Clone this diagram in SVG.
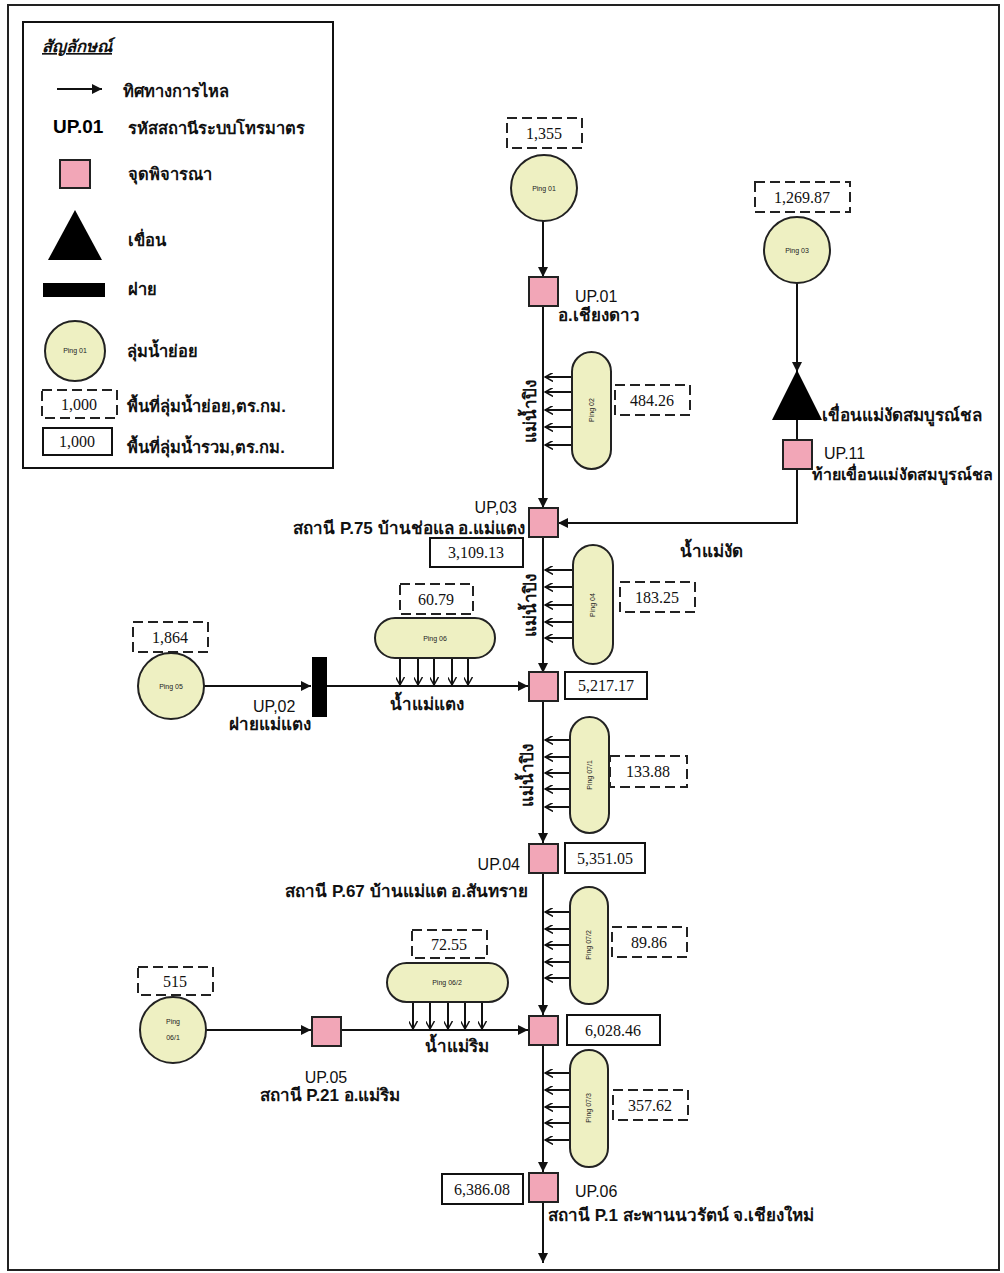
<svg xmlns="http://www.w3.org/2000/svg" width="1004" height="1273" viewBox="0 0 1004 1273">
<defs>
<style>
.ln{stroke:#111;stroke-width:2;fill:none}
.sq{fill:#f2a6b7;stroke:#222;stroke-width:2}
.cir{fill:#eef0c2;stroke:#222;stroke-width:2}
.dash{fill:#fff;stroke:#222;stroke-width:2;stroke-dasharray:10 5}
.box{fill:#fff;stroke:#111;stroke-width:2}
.num{font-family:"Liberation Serif",serif;font-size:16px;text-anchor:middle;fill:#111}
.th{font-family:"Liberation Sans","Noto Sans",sans-serif;font-size:17px;font-weight:bold;fill:#111}
.th16{font-size:16px}
.lg{font-family:"Liberation Sans","Noto Sans",sans-serif;font-size:16.5px;font-weight:bold;fill:#111}
.up{font-family:"Liberation Sans",sans-serif;font-size:16px;fill:#111}
.pg{font-family:"Liberation Sans",sans-serif;font-size:7px;text-anchor:middle;fill:#222}
</style>
<marker id="ah" viewBox="0 0 10 10" refX="10" refY="5" markerWidth="10" markerHeight="10" markerUnits="userSpaceOnUse" orient="auto"><path d="M0,0 L10,5 L0,10 z" fill="#111"/></marker>
<marker id="ch" viewBox="0 0 10 10" refX="9" refY="5" markerWidth="9" markerHeight="9" markerUnits="userSpaceOnUse" orient="auto"><path d="M0,0 L9,5 L0,10" fill="none" stroke="#111" stroke-width="1.6"/></marker>
</defs>
<rect x="0" y="0" width="1004" height="1273" fill="#fff"/>
<rect x="8" y="5" width="991" height="1265" fill="none" stroke="#222" stroke-width="2"/>

<g id="legend">
<rect x="23" y="22" width="310" height="446" fill="#fff" stroke="#111" stroke-width="2"/>
<text x="42" y="52" class="lg" font-style="italic" text-decoration="underline">สัญลักษณ์</text>
<line x1="57" y1="89" x2="102" y2="89" class="ln" marker-end="url(#ah)"/>
<text x="123" y="97" class="lg">ทิศทางการไหล</text>
<text x="53" y="133" font-family="Liberation Sans,sans-serif" font-size="19" font-weight="bold">UP.01</text>
<text x="128" y="134" class="lg">รหัสสถานีระบบโทรมาตร</text>
<rect x="60" y="160" width="30" height="28" class="sq"/>
<text x="128" y="180" class="lg">จุดพิจารณา</text>
<polygon points="75,210 48,260 102,260" fill="#000"/>
<text x="128" y="246" class="lg">เขื่อน</text>
<rect x="43" y="283" width="62" height="14" fill="#000"/>
<text x="128" y="295" class="lg">ฝาย</text>
<circle cx="75" cy="351" r="30" class="cir"/>
<text x="75" y="353" class="pg">Ping 01</text>
<text x="127" y="357" class="lg">ลุ่มน้ำย่อย</text>
<rect x="42" y="390" width="75" height="28" class="dash"/>
<text x="79" y="410" class="num">1,000</text>
<text x="127" y="412" class="lg">พื้นที่ลุ่มน้ำย่อย,ตร.กม.</text>
<rect x="43" y="428" width="69" height="27" class="box"/>
<text x="77" y="447" class="num">1,000</text>
<text x="127" y="453" class="lg">พื้นที่ลุ่มน้ำรวม,ตร.กม.</text>
</g>

<g id="connectors">
<line x1="543" y1="221" x2="543" y2="277" class="ln" marker-end="url(#ah)"/>
<line x1="543" y1="306" x2="543" y2="508" class="ln" marker-end="url(#ah)"/>
<line x1="543" y1="538" x2="543" y2="673" class="ln" marker-end="url(#ah)"/>
<line x1="543" y1="701" x2="543" y2="843" class="ln" marker-end="url(#ah)"/>
<line x1="543" y1="874" x2="543" y2="1015" class="ln" marker-end="url(#ah)"/>
<line x1="543" y1="1045" x2="543" y2="1172" class="ln" marker-end="url(#ah)"/>
<line x1="543" y1="1202" x2="543" y2="1263" class="ln" marker-end="url(#ah)"/>
<line x1="797" y1="283" x2="797" y2="372" class="ln" marker-end="url(#ah)"/>
<line x1="797" y1="420" x2="797" y2="440" class="ln"/>
<path d="M797,469 V523 H558" class="ln" marker-end="url(#ah)"/>
<line x1="204" y1="686" x2="311" y2="686" class="ln" marker-end="url(#ah)"/>
<line x1="327" y1="686" x2="528" y2="686" class="ln" marker-end="url(#ah)"/>
<line x1="206" y1="1030" x2="311" y2="1030" class="ln" marker-end="url(#ah)"/>
<line x1="341" y1="1030" x2="528" y2="1030" class="ln" marker-end="url(#ah)"/>
<g class="ln" stroke-width="1.6">
<line x1="572" y1="377" x2="545" y2="377" marker-end="url(#ch)"/>
<line x1="572" y1="392" x2="545" y2="392" marker-end="url(#ch)"/>
<line x1="572" y1="410" x2="545" y2="410" marker-end="url(#ch)"/>
<line x1="572" y1="427" x2="545" y2="427" marker-end="url(#ch)"/>
<line x1="572" y1="445" x2="545" y2="445" marker-end="url(#ch)"/>
<line x1="573" y1="570" x2="545" y2="570" marker-end="url(#ch)"/>
<line x1="573" y1="587" x2="545" y2="587" marker-end="url(#ch)"/>
<line x1="573" y1="605" x2="545" y2="605" marker-end="url(#ch)"/>
<line x1="573" y1="622" x2="545" y2="622" marker-end="url(#ch)"/>
<line x1="573" y1="638" x2="545" y2="638" marker-end="url(#ch)"/>
<line x1="570" y1="740" x2="545" y2="740" marker-end="url(#ch)"/>
<line x1="570" y1="757" x2="545" y2="757" marker-end="url(#ch)"/>
<line x1="570" y1="773" x2="545" y2="773" marker-end="url(#ch)"/>
<line x1="570" y1="789" x2="545" y2="789" marker-end="url(#ch)"/>
<line x1="570" y1="807" x2="545" y2="807" marker-end="url(#ch)"/>
<line x1="570" y1="912" x2="545" y2="912" marker-end="url(#ch)"/>
<line x1="570" y1="929" x2="545" y2="929" marker-end="url(#ch)"/>
<line x1="570" y1="945" x2="545" y2="945" marker-end="url(#ch)"/>
<line x1="570" y1="962" x2="545" y2="962" marker-end="url(#ch)"/>
<line x1="570" y1="978" x2="545" y2="978" marker-end="url(#ch)"/>
<line x1="570" y1="1073" x2="545" y2="1073" marker-end="url(#ch)"/>
<line x1="570" y1="1090" x2="545" y2="1090" marker-end="url(#ch)"/>
<line x1="570" y1="1107" x2="545" y2="1107" marker-end="url(#ch)"/>
<line x1="570" y1="1123" x2="545" y2="1123" marker-end="url(#ch)"/>
<line x1="570" y1="1140" x2="545" y2="1140" marker-end="url(#ch)"/>
<line x1="400" y1="658" x2="400" y2="685" marker-end="url(#ch)"/>
<line x1="418" y1="658" x2="418" y2="685" marker-end="url(#ch)"/>
<line x1="434" y1="658" x2="434" y2="685" marker-end="url(#ch)"/>
<line x1="452" y1="658" x2="452" y2="685" marker-end="url(#ch)"/>
<line x1="468" y1="658" x2="468" y2="685" marker-end="url(#ch)"/>
<line x1="413" y1="1002" x2="413" y2="1029" marker-end="url(#ch)"/>
<line x1="430" y1="1002" x2="430" y2="1029" marker-end="url(#ch)"/>
<line x1="448" y1="1002" x2="448" y2="1029" marker-end="url(#ch)"/>
<line x1="465" y1="1002" x2="465" y2="1029" marker-end="url(#ch)"/>
<line x1="482" y1="1002" x2="482" y2="1029" marker-end="url(#ch)"/>
</g>
</g>

<g id="river-labels">
<text class="th" text-anchor="middle" transform="translate(536,411) rotate(-90)">แม่น้ำปิง</text>
<text class="th" text-anchor="middle" transform="translate(536,605) rotate(-90)">แม่น้ำปิง</text>
<text class="th" text-anchor="middle" transform="translate(533,775) rotate(-90)">แม่น้ำปิง</text>
<text x="680" y="557" class="th">น้ำแม่งัด</text>
<text x="390" y="710" class="th">น้ำแม่แตง</text>
<text x="425" y="1052" class="th">น้ำแม่ริม</text>
</g>

<g id="ping01">
<rect x="507" y="118" width="75" height="30" class="dash"/>
<text x="544" y="139" class="num">1,355</text>
<circle cx="544" cy="188" r="33" class="cir"/>
<text x="544" y="191" class="pg">Ping 01</text>
</g>
<g id="up01">
<rect x="529" y="277" width="29" height="29" class="sq"/>
<text x="575" y="302" class="up">UP.01</text>
<text x="558" y="321" class="th">อ.เชียงดาว</text>
</g>
<g id="ping02">
<rect x="572" y="352" width="39" height="117" rx="19.5" class="cir"/>
<text class="pg" transform="translate(594,410) rotate(-90)">Ping 02</text>
<rect x="615" y="385" width="75" height="30" class="dash"/>
<text x="652" y="406" class="num">484.26</text>
</g>
<g id="ping03">
<rect x="755" y="182" width="95" height="30" class="dash"/>
<text x="802" y="203" class="num">1,269.87</text>
<circle cx="797" cy="250" r="33" class="cir"/>
<text x="797" y="253" class="pg">Ping 03</text>
</g>
<g id="dam">
<polygon points="797,370 772,420 822,420" fill="#000"/>
<text x="822" y="421" class="th">เขื่อนแม่งัดสมบูรณ์ชล</text>
</g>
<g id="up11">
<rect x="783" y="440" width="29" height="29" class="sq"/>
<text x="824" y="459" class="up">UP.11</text>
<text x="812" y="480" class="th th16">ท้ายเขื่อนแม่งัดสมบูรณ์ชล</text>
</g>
<g id="up03">
<rect x="529" y="508" width="29" height="29" class="sq"/>
<text x="517" y="513" class="up" text-anchor="end">UP,03</text>
<text x="525" y="534" class="th" text-anchor="end">สถานี P.75 บ้านช่อแล อ.แม่แตง</text>
<rect x="430" y="538" width="93" height="29" class="box"/>
<text x="476" y="558" class="num">3,109.13</text>
</g>
<g id="ping04">
<rect x="573" y="545" width="40" height="119" rx="20" class="cir"/>
<text class="pg" transform="translate(595,605) rotate(-90)">Ping 04</text>
<rect x="620" y="582" width="75" height="30" class="dash"/>
<text x="657" y="603" class="num">183.25</text>
</g>
<g id="ping05">
<rect x="133" y="622" width="75" height="30" class="dash"/>
<text x="170" y="643" class="num">1,864</text>
<circle cx="171" cy="686" r="33" class="cir"/>
<text x="171" y="689" class="pg">Ping 05</text>
</g>
<g id="up02">
<rect x="312" y="657" width="15" height="60" fill="#000"/>
<text x="253" y="712" class="up">UP,02</text>
<text x="229" y="730" class="th">ฝายแม่แตง</text>
</g>
<g id="ping06">
<rect x="400" y="584" width="73" height="30" class="dash"/>
<text x="436" y="605" class="num">60.79</text>
<rect x="375" y="618" width="120" height="40" rx="20" class="cir"/>
<text x="435" y="641" class="pg">Ping 06</text>
</g>
<g id="n5217">
<rect x="529" y="672" width="29" height="29" class="sq"/>
<rect x="565" y="672" width="82" height="27" class="box"/>
<text x="606" y="691" class="num">5,217.17</text>
</g>
<g id="ping071">
<rect x="570" y="717" width="39" height="116" rx="19.5" class="cir"/>
<text class="pg" transform="translate(592,775) rotate(-90)">Ping 07/1</text>
<rect x="610" y="756" width="77" height="31" class="dash"/>
<text x="648" y="777" class="num">133.88</text>
</g>
<g id="up04">
<rect x="529" y="844" width="29" height="29" class="sq"/>
<rect x="565" y="843" width="80" height="30" class="box"/>
<text x="605" y="864" class="num">5,351.05</text>
<text x="520" y="870" class="up" text-anchor="end">UP.04</text>
<text x="528" y="897" class="th" text-anchor="end">สถานี P.67 บ้านแม่แต อ.สันทราย</text>
</g>
<g id="ping072">
<rect x="570" y="887" width="38" height="117" rx="19" class="cir"/>
<text class="pg" transform="translate(591,945) rotate(-90)">Ping 07/2</text>
<rect x="612" y="927" width="75" height="30" class="dash"/>
<text x="649" y="948" class="num">89.86</text>
</g>
<g id="ping061">
<rect x="138" y="967" width="75" height="28" class="dash"/>
<text x="175" y="987" class="num">515</text>
<circle cx="173" cy="1030" r="33" class="cir"/>
<text x="173" y="1024" class="pg">Ping</text>
<text x="173" y="1040" class="pg">06/1</text>
</g>
<g id="up05">
<rect x="312" y="1017" width="29" height="29" class="sq"/>
<text x="326" y="1083" class="up" text-anchor="middle">UP.05</text>
<text x="330" y="1101" class="th" text-anchor="middle">สถานี P.21 อ.แม่ริม</text>
</g>
<g id="ping062">
<rect x="412" y="930" width="75" height="28" class="dash"/>
<text x="449" y="950" class="num">72.55</text>
<rect x="387" y="963" width="121" height="39" rx="19.5" class="cir"/>
<text x="447" y="985" class="pg">Ping 06/2</text>
</g>
<g id="n6028">
<rect x="529" y="1016" width="29" height="29" class="sq"/>
<rect x="567" y="1015" width="93" height="30" class="box"/>
<text x="613" y="1036" class="num">6,028.46</text>
</g>
<g id="ping073">
<rect x="570" y="1050" width="38" height="117" rx="19" class="cir"/>
<text class="pg" transform="translate(591,1108) rotate(-90)">Ping 07/3</text>
<rect x="613" y="1090" width="75" height="30" class="dash"/>
<text x="650" y="1111" class="num">357.62</text>
</g>
<g id="up06">
<rect x="529" y="1173" width="29" height="29" class="sq"/>
<rect x="442" y="1174" width="81" height="30" class="box"/>
<text x="482" y="1195" class="num">6,386.08</text>
<text x="575" y="1197" class="up">UP.06</text>
<text x="548" y="1221" class="th">สถานี P.1 สะพานนวรัตน์ จ.เชียงใหม่</text>
</g>
</svg>
